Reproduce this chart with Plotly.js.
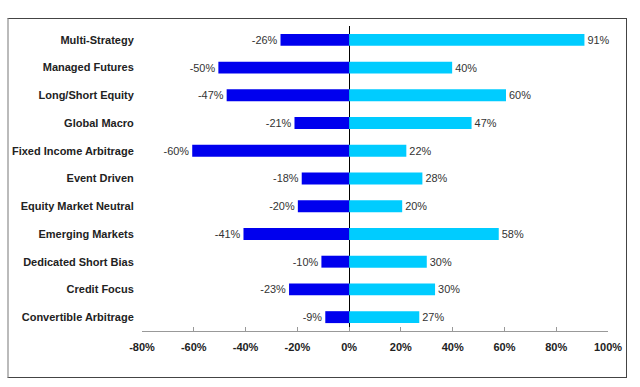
<!DOCTYPE html>
<html>
<head>
<meta charset="utf-8">
<script src="https://cdn.plot.ly/plotly-3.0.1.min.js"></script>
<style>
  html, body { margin: 0; padding: 0; background: #fff; }
  #wrap { position: relative; width: 640px; height: 387px; }
  #chart { position: absolute; left: 0; top: 0; width: 640px; height: 387px; }
  #frame { position: absolute; left: 7px; top: 18px; width: 617px; height: 358px;
           border: 1px solid #444; border-left: 2px solid #bbb; pointer-events: none; box-sizing: content-box; }
</style>
</head>
<body>
<div id="wrap">
  <div id="chart"></div>
  <div id="frame"></div>
</div>
<script>
const categories = [
  "Multi-Strategy", "Managed Futures", "Long/Short Equity", "Global Macro",
  "Fixed Income Arbitrage", "Event Driven", "Equity Market Neutral",
  "Emerging Markets", "Dedicated Short Bias", "Credit Focus", "Convertible Arbitrage"
];
const negValues = [-26.5, -50.5, -47.3, -21.1, -60.6, -18.3, -19.8, -40.8, -10.7, -23.2, -9.2];
const posValues = [90.9, 39.8, 60.6, 47.3, 22.1, 28.3, 20.5, 57.8, 30.0, 33.2, 27.1];
const negLabels = ["-26%", "-50%", "-47%", "-21%", "-60%", "-18%", "-20%", "-41%", "-10%", "-23%", "-9%"];
const posLabels = ["91%", "40%", "60%", "47%", "22%", "28%", "20%", "58%", "30%", "30%", "27%"];
const tickVals = [-80, -60, -40, -20, 0, 20, 40, 60, 80, 100];
const tickText = ["-80%", "-60%", "-40%", "-20%", "0%", "20%", "40%", "60%", "80%", "100%"];

const labelFont = { family: "Liberation Sans, Arial, sans-serif", size: 11, color: "#333" };

const traces = [
  {
    type: "bar", orientation: "h", y: categories, x: negValues,
    marker: { color: "#0000EE" }, width: 0.43,
    text: negLabels, textposition: "outside", textfont: labelFont,
    cliponaxis: false, hoverinfo: "skip"
  },
  {
    type: "bar", orientation: "h", y: categories, x: posValues,
    marker: { color: "#00CCFF" }, width: 0.43,
    text: posLabels, textposition: "outside", textfont: labelFont,
    cliponaxis: false, hoverinfo: "skip"
  }
];

const layout = {
  width: 640, height: 387,
  margin: { l: 142, r: 32, t: 26, b: 56 },
  paper_bgcolor: "#fff", plot_bgcolor: "#fff",
  barmode: "overlay",
  showlegend: false,
  font: { family: "Liberation Sans, Arial, sans-serif", size: 11, color: "#222" },
  xaxis: {
    range: [-80, 100],
    tickvals: tickVals, ticktext: tickText,
    showgrid: false,
    zeroline: true, zerolinecolor: "#000", zerolinewidth: 1,
    showline: true, linecolor: "#999", linewidth: 1,
    ticks: "inside", ticklen: 4, tickcolor: "#999",
    ticklabelstandoff: 6,
    tickfont: { family: "Liberation Sans, Arial, sans-serif", size: 11, color: "#222", weight: "bold" },
    fixedrange: true
  },
  yaxis: {
    type: "category",
    autorange: "reversed",
    showgrid: false, zeroline: false, showline: false,
    ticks: "outside", ticklen: 5, tickcolor: "rgba(0,0,0,0)",
    tickfont: { family: "Liberation Sans, Arial, sans-serif", size: 11, color: "#222", weight: "bold" },
    fixedrange: true
  }
};

Plotly.newPlot("chart", traces, layout, { displayModeBar: false, staticPlot: true });
</script>
</body>
</html>
